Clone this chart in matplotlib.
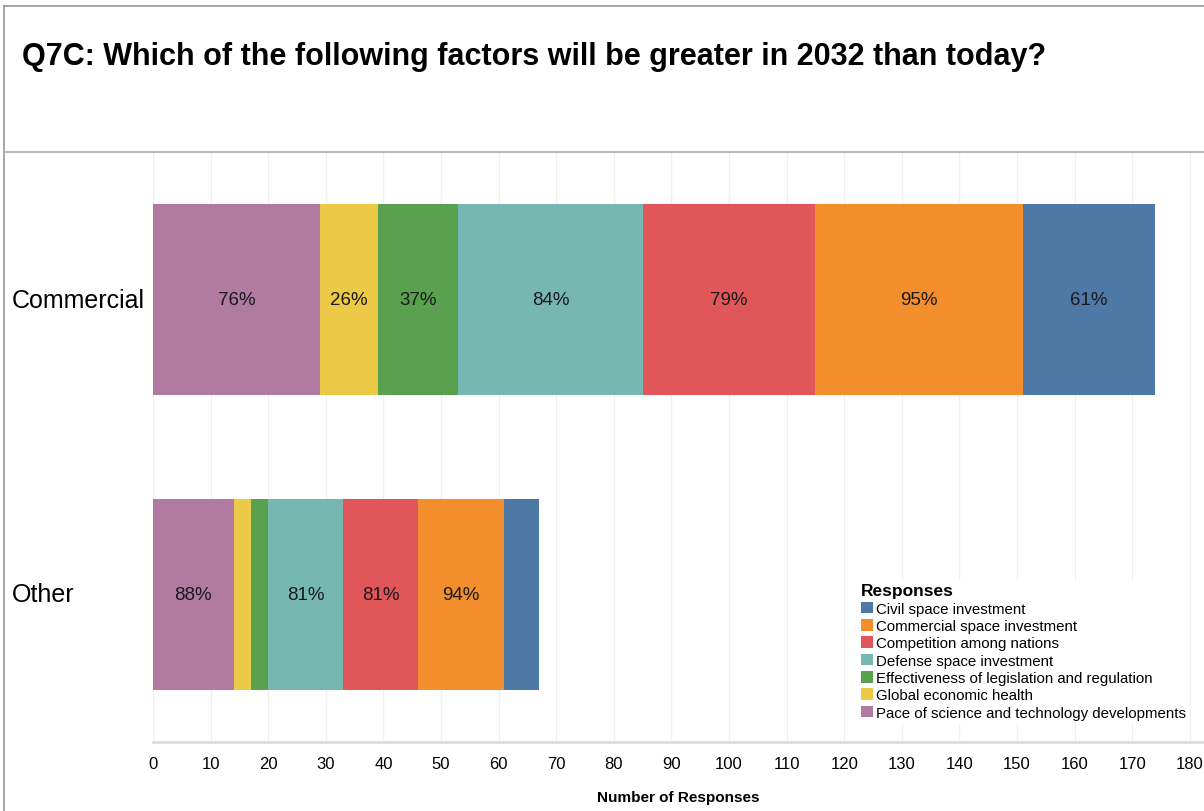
import matplotlib
matplotlib.use('Agg')
from matplotlib import pyplot as plt
from matplotlib import transforms
from matplotlib.patches import Patch

plt.rcParams['font.family'] = ['Liberation Sans', 'DejaVu Sans']

groups = ['Commercial', 'Other']
# stacking order, left to right
responses = ['Pace of science and technology developments', 'Global economic health',
             'Effectiveness of legislation and regulation', 'Defense space investment',
             'Competition among nations', 'Commercial space investment', 'Civil space investment']
colors = ['#b07aa1', '#edc948', '#59a14f', '#76b7b2', '#e15759', '#f28e2b', '#4e79a7']
counts = {
    'Commercial': [29, 10, 14, 32, 30, 36, 23],
    'Other': [14, 3, 3, 13, 13, 15, 6],
}
pct_labels = {
    'Commercial': ['76%', '26%', '37%', '84%', '79%', '95%', '61%'],
    'Other': ['88%', '', '', '81%', '81%', '94%', ''],
}
xticks = list(range(0, 190, 10))

W, H = 1204, 812
fig = plt.figure(figsize=(W / 100, H / 100), dpi=100)

# plot area in pixels
left, right, top, bottom = 153, 1204, 153, 743
ax = fig.add_axes([left / W, 1 - bottom / H, (right - left) / W, (bottom - top) / H])

for gi, g in enumerate(groups):
    start = 0
    for ri, r in enumerate(responses):
        v = counts[g][ri]
        bars = ax.barh(gi, v, left=start, height=0.646, color=colors[ri], edgecolor='none')
        ax.bar_label(bars, labels=[pct_labels[g][ri]], label_type='center', fontsize=13.5, color='#1a1a1a')
        start += v

ax.set_xlim(0, (right - left) / 5.76)
ax.set_ylim(1.5, -0.5)
ax.set_xticks(xticks)
ax.set_xticklabels([str(t) for t in xticks], fontsize=12)
ax.tick_params(axis='x', length=0, pad=10)
ax.set_yticks([])
ax.grid(axis='x', color='#f0f0f0', linewidth=1)
ax.set_axisbelow(True)
for s in ['top', 'right', 'left']:
    ax.spines[s].set_visible(False)
ax.spines['bottom'].set_color('#dddddd')
ax.spines['bottom'].set_linewidth(2)
ax.set_xlabel('Number of Responses', fontsize=11, fontweight='bold', labelpad=14)

# row labels at left of the figure
trans = transforms.blended_transform_factory(fig.transFigure, ax.transData)
for gi, g in enumerate(groups):
    fig.text(12 / W, gi, g, transform=trans, fontsize=18, va='center', ha='left')

# title and frame
fig.text(22 / W, 1 - 57 / H, 'Q7C: Which of the following factors will be greater in 2032 than today?',
         fontsize=22, fontweight='bold', va='center', ha='left')
fig.add_artist(plt.Line2D([4 / W, 1], [1 - 7 / H, 1 - 7 / H], color='#999999', lw=1.2))
fig.add_artist(plt.Line2D([4 / W, 4 / W], [0, 1 - 7 / H], color='#999999', lw=1.2))
fig.add_artist(plt.Line2D([4 / W, 1], [1 - 153 / H, 1 - 153 / H], color='#aaaaaa', lw=1.2))

handles = [Patch(facecolor=c, edgecolor='none') for c in colors][::-1]
leg = ax.legend(handles, responses[::-1], title='Responses', loc='upper left',
                bbox_to_anchor=(850 / W, 1 - 574 / H), bbox_transform=fig.transFigure,
                fontsize=10.8, title_fontproperties={'weight': 'bold', 'size': 12.5},
                alignment='left', frameon=True, framealpha=1, edgecolor='none',
                handlelength=0.8, handleheight=0.8, handletextpad=0.25, labelspacing=0.22,
                borderpad=0.2)
leg.get_frame().set_facecolor('white')

fig.savefig('out.png', dpi=100)
